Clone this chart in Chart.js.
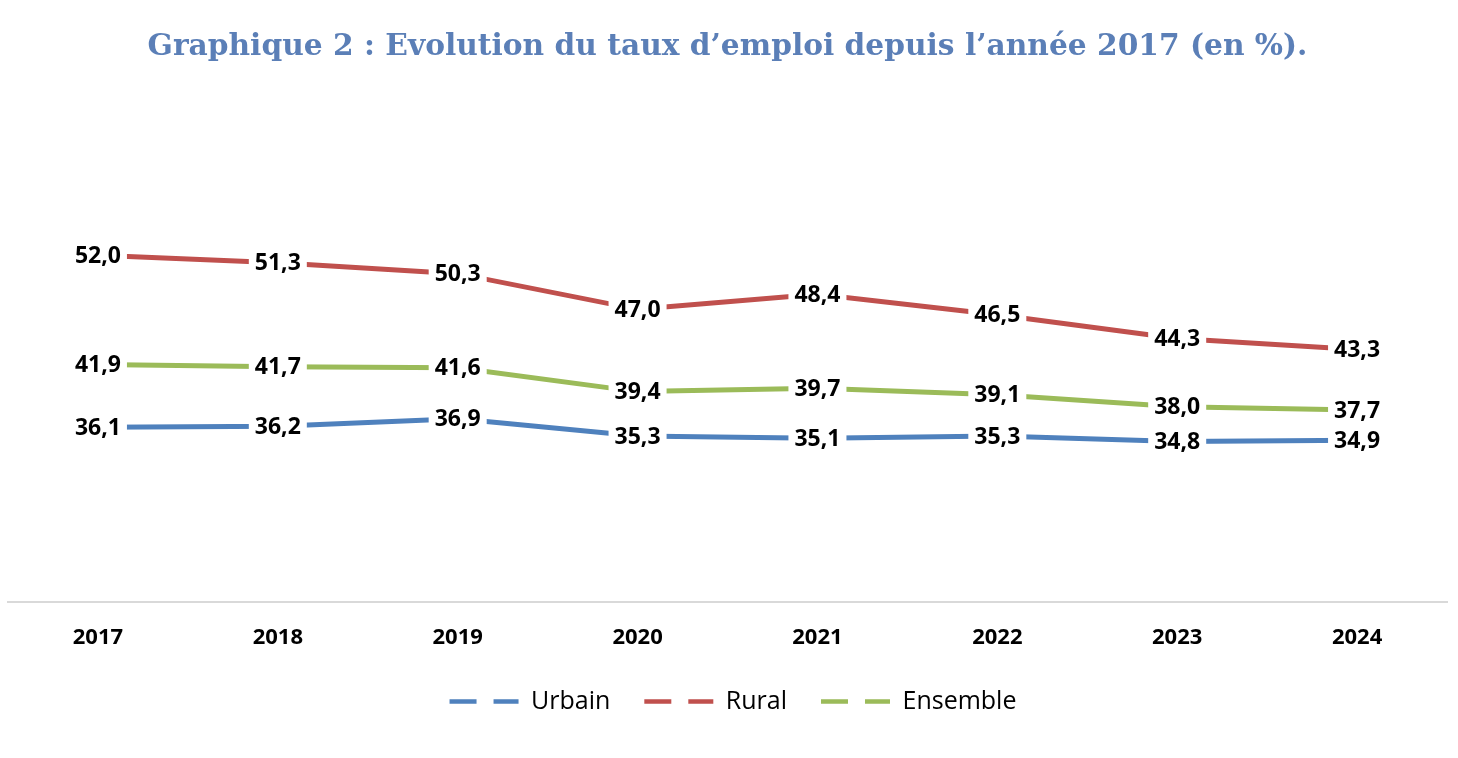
<!DOCTYPE html>
<html lang="fr">
<head>
<meta charset="utf-8">
<title>Evolution du taux d'emploi</title>
<script src="https://cdn.jsdelivr.net/npm/chart.js@4/dist/chart.umd.min.js"></script>
<style>
  html, body { margin: 0; padding: 0; background: #fff; }
  #wrap { width: 1458px; height: 758px; }
</style>
</head>
<body>
<div id="wrap"><canvas id="chart"></canvas></div>
<script>
const years = ['2017', '2018', '2019', '2020', '2021', '2022', '2023', '2024'];
const urbain = [36.1, 36.2, 36.9, 35.3, 35.1, 35.3, 34.8, 34.9];
const rural = [52.0, 51.3, 50.3, 47.0, 48.4, 46.5, 44.3, 43.3];
const ensemble = [41.9, 41.7, 41.6, 39.4, 39.7, 39.1, 38.0, 37.7];

const seriesNames = ['Urbain', 'Rural', 'Ensemble'];
const seriesColors = ['#4f81bd', '#c0504d', '#9bbb59'];

// value labels sitting on the points, on a white box that hides the line
const pointLabels = {
  id: 'pointLabels',
  afterDatasetsDraw(chart) {
    const ctx = chart.ctx;
    ctx.save();
    ctx.font = 'bold 23px "Open Sans"';
    ctx.textAlign = 'center';
    ctx.textBaseline = 'middle';
    chart.data.datasets.forEach((ds, i) => {
      const meta = chart.getDatasetMeta(i);
      meta.data.forEach((pt, j) => {
        const txt = ds.data[j].toFixed(1).replace('.', ',');
        const w = ctx.measureText(txt).width;
        ctx.fillStyle = '#fff';
        ctx.fillRect(pt.x - w / 2 - 6, pt.y - 12, w + 12, 26);
        ctx.fillStyle = '#000';
        ctx.fillText(txt, pt.x, pt.y + 1);
      });
    });
    ctx.restore();
  }
};

const ctx = document.getElementById('chart').getContext('2d');
new Chart(ctx, {
  type: 'line',
  data: {
    labels: years,
    datasets: [urbain, rural, ensemble].map((data, i) => ({
      label: seriesNames[i],
      data,
      borderColor: seriesColors[i],
      backgroundColor: seriesColors[i],
      borderWidth: 5,
      pointRadius: 0,
      tension: 0
    }))
  },
  options: {
    responsive: true,
    maintainAspectRatio: false,
    animation: false,
    layout: { padding: { left: 8, right: 11, top: 0, bottom: 34 } },
    plugins: {
      title: {
        display: true,
        text: 'Graphique 2 : Evolution du taux d’emploi depuis l’année 2017 (en %).',
        color: '#5b7fb7',
        font: { family: '"DejaVu Serif"', size: 29.7, weight: 'bold' },
        padding: { top: 29, bottom: 104 }
      },
      legend: {
        position: 'bottom',
        labels: {
          usePointStyle: true,
          pointStyle: 'line',
          pointStyleWidth: 80,
          padding: 23,
          color: '#595959',
          font: { family: '"Open Sans"', size: 25 },
          generateLabels(chart) {
            // 11px blank first, then two dashes
            return chart.data.datasets.map((ds, i) => ({
              text: ds.label,
              strokeStyle: ds.borderColor,
              fillStyle: ds.borderColor,
              lineWidth: 4.5,
              lineDash: [27, 17, 25, 11],
              lineDashOffset: 69,
              lineCap: 'butt',
              pointStyle: 'line',
              datasetIndex: i
            }));
          }
        }
      },
      tooltip: { enabled: false }
    },
    scales: {
      x: {
        offset: true,
        grid: { display: false },
        border: { display: true, color: '#d9d9d9', width: 2 },
        ticks: { color: '#000', padding: 15, font: { family: '"Open Sans"', size: 22, weight: 'bold' } }
      },
      y: {
        display: false,
        min: 20,
        max: 60
      }
    }
  },
  plugins: [pointLabels]
});
</script>
</body>
</html>
